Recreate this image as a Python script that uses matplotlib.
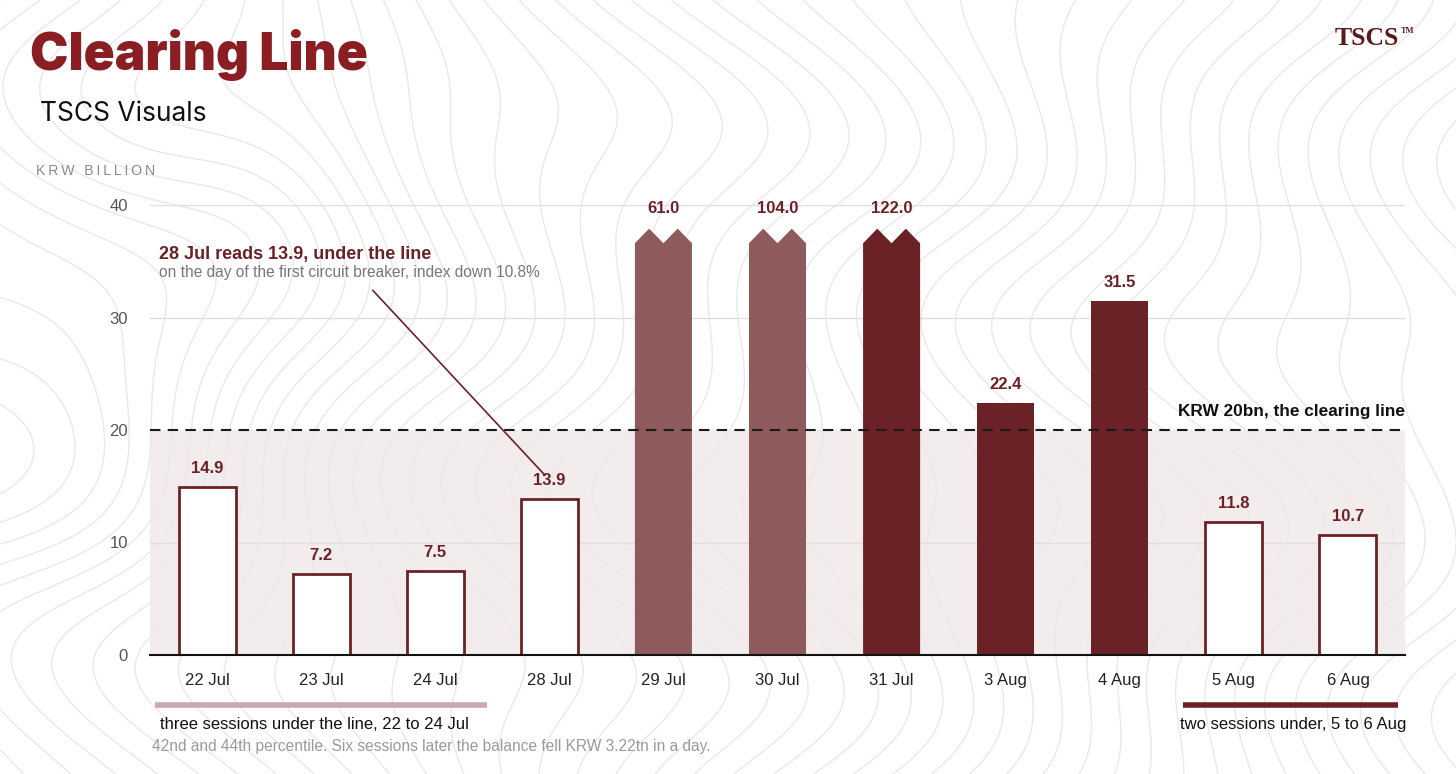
import numpy as np
import matplotlib
matplotlib.use("Agg")
from matplotlib import pyplot as plt
from matplotlib.patches import Polygon

# data
dates = ["22 Jul", "23 Jul", "24 Jul", "28 Jul", "29 Jul", "30 Jul",
         "31 Jul", "3 Aug", "4 Aug", "5 Aug", "6 Aug"]
values = [14.9, 7.2, 7.5, 13.9, 61.0, 104.0, 122.0, 22.4, 31.5, 11.8, 10.7]
clearing_line = 20
y_ticks = [0, 10, 20, 30, 40]

# styles
DARK = "#6B2226"
MUTED = "#8E5A5C"
TITLE_RED = "#8B1E22"
fills = ["white", "white", "white", "white", MUTED, MUTED,
         DARK, DARK, DARK, "white", "white"]
CAP = 36.6      # where off-scale bars get cut
PEAK = 37.9
W = 0.5

fig = plt.figure(figsize=(14.56, 7.74), dpi=100)

# background: pixel-coordinate axes with faint contour texture
bg = fig.add_axes([0, 0, 1, 1], zorder=0)
bg.set_xlim(0, 1456)
bg.set_ylim(774, 0)
bg.axis("off")
gx, gy = np.meshgrid(np.linspace(0, 1456, 400), np.linspace(0, 774, 220))
f = (gx + 55 * np.sin(gy / 85 + gx / 260) + 35 * np.sin(gy / 45 - gx / 180)
     - 160 * np.exp(-((gx - 90) ** 2 + (gy - 420) ** 2) / 2 / 120 ** 2)
     - 120 * np.exp(-((gx - 280) ** 2 + (gy - 180) ** 2) / 2 / 90 ** 2))
bg.contour(gx, gy, f, levels=np.arange(-200, 1700, 40), colors="#EAE8E8",
           linewidths=1.0, linestyles="solid")

ax = fig.add_axes([150 / 1456, (774 - 655) / 774, 1255 / 1456, 450 / 774], zorder=1)
ax.patch.set_alpha(0)
x = np.arange(len(dates))
ax.set_xlim(-0.5, len(dates) - 0.5)
ax.set_ylim(0, 40)

ax.axhspan(0, clearing_line, color="#EFE8E8", alpha=0.8, zorder=0, lw=0)
for t in [10, 30, 40]:
    ax.axhline(t, color="#E2DDDD", lw=1, zorder=0.5)
ax.axhline(clearing_line, color="#1a1a1a", lw=1.5, ls=(0, (5, 3.5)), zorder=3)

for xi, v, fc in zip(x, values, fills):
    if v > 40:
        l, r = xi - W / 2, xi + W / 2
        pts = [(l, 0), (l, CAP), (xi - W / 4, PEAK), (xi, CAP),
               (xi + W / 4, PEAK), (r, CAP), (r, 0)]
        ax.add_patch(Polygon(pts, closed=True, facecolor=fc, edgecolor="none", zorder=2))
        ax.text(xi, 39.7, f"{v:.1f}", ha="center", va="center", fontsize=12,
                fontweight="bold", color=DARK, family="Liberation Sans")
    else:
        if fc == "white":
            ax.bar(xi, v, W, facecolor="white", edgecolor=DARK, lw=2, zorder=2)
        else:
            ax.bar(xi, v, W, facecolor=fc, edgecolor="none", zorder=2)
        ax.annotate(f"{v:.1f}", (xi, v), xytext=(0, 8), textcoords="offset points",
                    ha="center", va="bottom", fontsize=12, fontweight="bold",
                    color=DARK, family="Liberation Sans")

for s in ["top", "right", "left"]:
    ax.spines[s].set_visible(False)
ax.spines["bottom"].set_color("#111")
ax.spines["bottom"].set_linewidth(1.5)
ax.spines["bottom"].set_zorder(4)
ax.set_xticks(x)
ax.set_xticklabels(dates, family="Liberation Sans", fontsize=12, color="#222")
ax.set_yticks(y_ticks)
ax.set_yticklabels([str(t) for t in y_ticks], family="Liberation Sans",
                   fontsize=12, color="#555")
ax.tick_params(axis="x", length=0, pad=13)
ax.tick_params(axis="y", length=0, pad=16)

ax.text(len(dates) - 0.5, clearing_line + 1.0, "KRW 20bn, the clearing line",
        ha="right", va="bottom", fontsize=12.4, fontweight="bold", color="#111",
        family="Liberation Sans")

# callout for 28 Jul
ax.plot([1.454, 2.96], [32.4, 16.0], color=DARK, lw=1.2, zorder=3)

# header texts
bg.text(30, 70, "Clearing Line", fontsize=37, fontweight="black", color=TITLE_RED,
        family="Inter", va="baseline")
bg.text(40, 121, "TSCS Visuals", fontsize=19, color="#111", family="Inter",
        va="baseline")
bg.text(36, 175, "\u2009".join("KRW BILLION"), fontsize=10.2, color="#8a8a8a",
        family="Liberation Sans", va="baseline")
bg.text(1335, 45, "TSCS", fontsize=18.5, color="#5A1A1A", family="Liberation Serif",
        fontweight="bold", ha="left", va="baseline")
bg.text(1401, 33, "TM", fontsize=6, color="#5A1A1A", family="Liberation Serif",
        fontweight="bold", ha="left", va="baseline")

bg.text(159, 259, "28 Jul reads 13.9, under the line", fontsize=13, fontweight="bold",
        color=DARK, family="Liberation Sans", va="baseline")
bg.text(159, 277, "on the day of the first circuit breaker, index down 10.8%",
        fontsize=11.2, color="#777", family="Liberation Sans", va="baseline")

# bottom brackets
bg.plot([155, 487], [705, 705], color="#C9A9AB", lw=4, solid_capstyle="butt")
bg.text(160, 729, "three sessions under the line, 22 to 24 Jul", fontsize=12,
        color="#111", family="Liberation Sans", va="baseline")
bg.text(152, 751, "42nd and 44th percentile. Six sessions later the balance fell KRW 3.22tn in a day.",
        fontsize=11.2, color="#9a9a9a", family="Liberation Sans", va="baseline")
bg.plot([1183, 1398], [705, 705], color=DARK, lw=4, solid_capstyle="butt")
bg.text(1406, 729, "two sessions under, 5 to 6 Aug", fontsize=12, color="#111",
        family="Liberation Sans", va="baseline", ha="right")

fig.savefig("out.png", dpi=100)
